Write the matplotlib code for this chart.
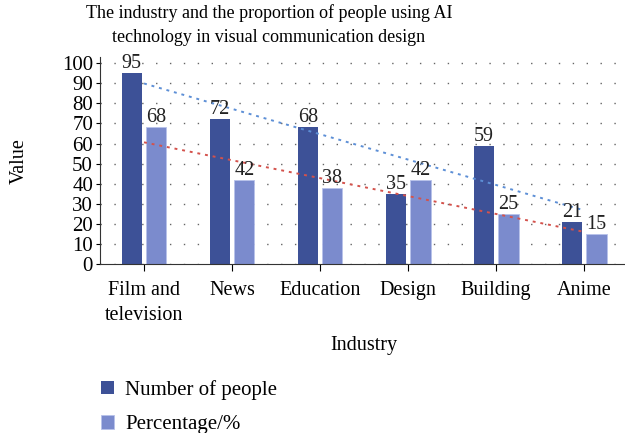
import numpy as np
import matplotlib.pyplot as plt

industries = ["Film and\ntelevision", "News", "Education", "Design", "Building", "Anime"]
people = [95, 72, 68, 35, 59, 21]
percentage = [68, 42, 38, 42, 25, 15]

dark = "#3d5197"
light = "#7b8bcd"

plt.rcParams["font.family"] = ["Liberation Serif", "DejaVu Serif"]

fig = plt.figure(figsize=(6.25, 4.33), dpi=100)
ax = fig.add_axes([0.16, 0.39, 0.845, 0.478])

x = np.arange(len(industries))
w = 0.23
b1 = ax.bar(x - 0.14, people, w, color=dark, label="Number of people")
b2 = ax.bar(x + 0.14, percentage, w, color=light, edgecolor="#b8c2ea",
            linewidth=0.6, label="Percentage/%")

for bars, vals in ((b1, people), (b2, percentage)):
    for r, v in zip(bars, vals):
        ax.text(r.get_x() + r.get_width() / 2, v, str(v),
                ha="center", va="bottom", fontsize=14.5, color="#222222")

# linear trend lines
for vals, c in ((people, "#5d8fd6"), (percentage, "#d4524c")):
    k, b = np.polyfit(x, vals, 1)
    ax.plot(x, k * x + b, color=c, linestyle=(0, (1.5, 2.5)), linewidth=1.4)

ax.set_xlim(-0.5, len(industries) - 0.5)
ax.set_ylim(0, 103)
ax.set_yticks(range(0, 101, 10))
ax.set_xticks(x)
ax.set_xticklabels(industries, fontsize=14.5, linespacing=1.45)
ax.tick_params(axis="y", labelsize=15, length=3, pad=2)
ax.tick_params(axis="x", length=5, pad=7)
ax.yaxis.grid(True, color="#666666", linestyle=(0, (1, 9)), linewidth=1)
ax.set_axisbelow(True)
for s in ("top", "right"):
    ax.spines[s].set_visible(False)
ax.spines["left"].set_color("#333333")
ax.spines["bottom"].set_color("#333333")

ax.set_xlabel("Industry", fontsize=14.5, labelpad=8)
ax.set_ylabel("Value", fontsize=14.5, labelpad=24)
ax.set_title("The industry and the proportion of people using AI\n"
             "technology in visual communication design", fontsize=13,
             linespacing=1.5, pad=11, x=0.32)

fig.legend(handles=[b1, b2], loc="upper left", bbox_to_anchor=(0.148, 0.142),
           frameon=False, fontsize=15, handlelength=0.62, handleheight=0.62,
           handletextpad=0.55, labelspacing=0.75, borderaxespad=0)

fig.savefig("out.png", dpi=100)
